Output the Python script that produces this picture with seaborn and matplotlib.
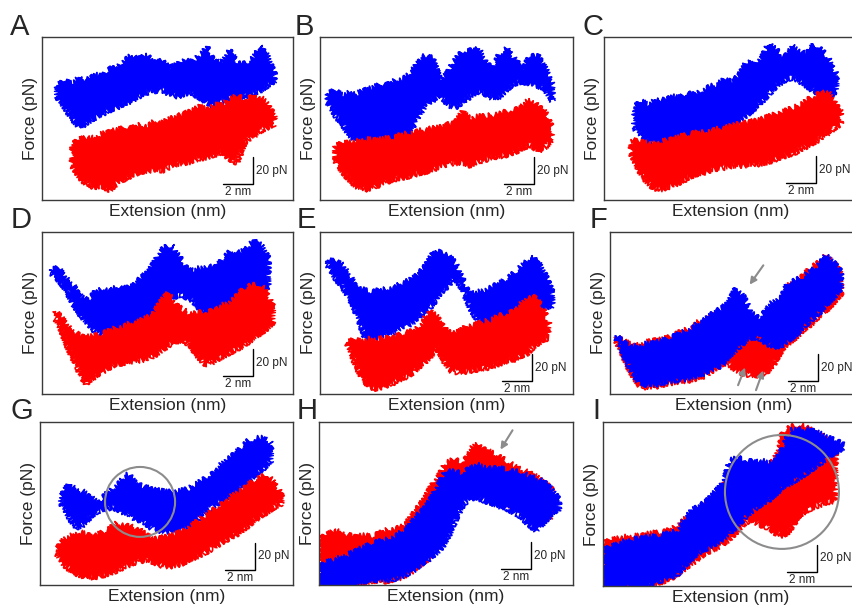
import numpy as np
import pandas as pd
import matplotlib
matplotlib.use('Agg')
import matplotlib.pyplot as plt
from matplotlib.patches import Ellipse
import seaborn as sns

sns.set_theme(style='white')
plt.rcParams['font.family'] = ['Liberation Sans', 'DejaVu Sans']

STEP = 0.5  # nm between envelope samples

# envelopes (pN) of each force-extension trace, sampled every 0.5 nm from x0 (nm)
a_blue_x0 = 1.0
a_blue_hi = [84, 87, 86, 90, 88, 92, 91, 96, 97, 103, 106, 104, 106, 101, 102, 97, 99, 103, 101, 106,
             112, 104, 101, 111, 100, 100, 104, 113, 106, 92]
a_blue_lo = [76, 68, 60, 53, 56, 60, 63, 66, 68, 71, 73, 76, 79, 80, 81, 78, 76, 78, 79, 75,
             72, 68, 72, 75, 74, 76, 78, 80, 84, 88]
a_red_x0 = 2.0
a_red_hi = [40, 44, 46, 45, 48, 50, 51, 53, 52, 55, 54, 57, 56, 59, 61, 63, 65, 68, 66, 70,
            69, 74, 76, 74, 77, 75, 72, 62]
a_red_lo = [25, 16, 11, 9, 10, 6, 12, 15, 18, 20, 21, 22, 21, 24, 26, 27, 28, 30, 31, 33,
            35, 30, 27, 42, 46, 50, 53, 56]

b_blue_x0 = 0.5
b_blue_hi = [78, 80, 77, 79, 78, 81, 82, 85, 84, 88, 89, 92, 100, 106, 104, 88, 93, 103, 109, 111,
             112, 103, 96, 108, 112, 103, 96, 105, 106, 97, 84]
b_blue_lo = [72, 62, 56, 46, 44, 45, 42, 44, 41, 43, 46, 50, 60, 70, 73, 78, 70, 68, 72, 76,
             80, 78, 75, 76, 82, 86, 87, 86, 84, 82, 72]
b_red_x0 = 1.0
b_red_hi = [39, 41, 42, 43, 44, 44, 44, 45, 45, 48, 49, 50, 51, 52, 53, 55, 56, 64, 59, 61,
            61, 62, 63, 65, 67, 70, 73, 70, 64, 52]
b_red_lo = [29, 20, 14, 9, 7, 8, 11, 13, 15, 16, 17, 19, 20, 22, 24, 26, 27, 27, 25, 28,
            29, 31, 32, 33, 35, 38, 40, 36, 38, 45]

c_blue_x0 = 2.0
c_blue_hi = [68, 72, 70, 74, 73, 76, 75, 78, 77, 80, 83, 84, 88, 87, 91, 101, 99, 104, 115, 110,
             106, 113, 110, 108, 114, 110, 104, 92]
c_blue_lo = [53, 47, 42, 40, 39, 43, 45, 45, 47, 48, 50, 49, 52, 56, 58, 62, 67, 72, 78, 84,
             88, 90, 88, 84, 80, 77, 76, 80]
c_red_x0 = 1.8
c_red_hi = [44, 42, 42, 41, 42, 44, 45, 47, 48, 49, 50, 51, 52, 53, 55, 56, 57, 58, 60, 62,
            64, 66, 68, 71, 75, 79, 80, 74, 64]
c_red_lo = [34, 22, 14, 8, 7, 9, 11, 14, 17, 19, 20, 22, 23, 24, 25, 25, 26, 26, 27, 29,
            31, 33, 35, 38, 41, 44, 48, 52, 56]

d_blue_x0 = 0.6
d_blue_hi = [92, 93, 86, 80, 72, 69, 76, 78, 77, 79, 78, 80, 86, 90, 99, 108, 110, 102, 95, 92,
             93, 95, 94, 100, 106, 105, 108, 113, 110, 100]
d_blue_lo = [90, 84, 78, 66, 58, 52, 46, 44, 40, 42, 44, 46, 50, 54, 60, 63, 70, 74, 72, 69,
             62, 59, 57, 56, 60, 64, 70, 73, 76, 80]
d_red_x0 = 0.9
d_red_hi = [61, 55, 48, 44, 42, 43, 44, 46, 49, 50, 52, 53, 56, 58, 68, 74, 66, 62, 59, 60,
            61, 63, 65, 67, 72, 77, 80, 81, 78, 64]
d_red_lo = [56, 44, 30, 18, 8, 12, 16, 19, 22, 23, 24, 25, 26, 28, 32, 36, 39, 40, 36, 28,
            22, 24, 27, 30, 33, 36, 40, 44, 48, 53]

e_blue_x0 = 0.5
e_blue_hi = [99, 98, 96, 87, 78, 77, 75, 77, 78, 79, 82, 84, 88, 94, 103, 105, 103, 97, 85, 76,
             75, 77, 80, 82, 85, 90, 96, 101, 98, 88, 75]
e_blue_lo = [96, 86, 80, 70, 58, 42, 40, 43, 45, 46, 50, 52, 56, 62, 66, 75, 80, 86, 78, 64,
             55, 52, 53, 55, 57, 58, 61, 62, 64, 64, 66]
e_red_x0 = 1.8
e_red_hi = [38, 40, 39, 41, 40, 42, 41, 44, 45, 47, 52, 61, 57, 48, 44, 46, 50, 51, 53, 54,
            57, 59, 62, 65, 71, 72, 64, 52]
e_red_lo = [38, 24, 12, 5, 4, 6, 8, 11, 13, 17, 22, 27, 34, 24, 17, 16, 17, 18, 19, 20,
            22, 24, 25, 28, 30, 36, 40, 42]

f_blue_x0 = 0.4
f_blue_hi = [43, 38, 36, 35, 37, 38, 39, 41, 43, 46, 48, 52, 55, 60, 63, 67, 78, 72, 60, 56,
             64, 68, 72, 82, 84, 87, 92, 95, 102, 97, 90]
f_blue_lo = [42, 30, 18, 9, 7, 7, 8, 10, 10, 11, 12, 14, 16, 19, 21, 28, 33, 38, 42, 42,
             38, 35, 36, 40, 44, 50, 55, 60, 66, 72, 78]
f_red_x0 = 0.4
f_red_hi = [42, 39, 37, 36, 38, 40, 40, 42, 44, 47, 49, 53, 55, 58, 60, 57, 54, 52, 50, 50,
            52, 60, 70, 80, 84, 88, 93, 97, 103, 98, 88]
f_red_lo = [40, 28, 16, 7, 5, 5, 7, 8, 9, 10, 10, 12, 14, 18, 22, 22, 18, 15, 14, 14,
            16, 22, 32, 38, 42, 48, 52, 58, 62, 68, 74]

g_blue_x0 = 1.4
g_blue_hi = [64, 74, 70, 68, 64, 60, 66, 71, 76, 81, 74, 72, 70, 69, 68, 68, 69, 70, 74, 77,
             82, 86, 92, 96, 100, 106, 108, 109, 104]
g_blue_lo = [60, 50, 42, 44, 50, 54, 56, 57, 54, 52, 48, 46, 42, 40, 38, 40, 40, 42, 47, 52,
             56, 60, 64, 66, 72, 76, 82, 86, 92]
g_red_x0 = 1.1
g_red_hi = [25, 33, 36, 38, 37, 35, 38, 40, 45, 44, 42, 40, 36, 33, 34, 35, 37, 39, 43, 47,
            51, 55, 60, 63, 68, 71, 75, 78, 81, 76, 66]
g_red_lo = [23, 14, 10, 7, 5, 5, 6, 8, 10, 13, 15, 17, 18, 16, 14, 13, 14, 16, 19, 21,
            24, 27, 31, 34, 37, 41, 45, 50, 53, 57, 60]

h_blue_x0 = 0.0
h_blue_hi = [12, 16, 18, 20, 22, 25, 27, 30, 31, 33, 35, 38, 42, 50, 55, 63, 74, 84, 83, 82,
             87, 88, 87, 86, 86, 84, 83, 83, 80, 79, 75, 70, 62]
h_blue_lo = [-4, -4, -4, -3, -2, 1, 2, 3, 3, 3, 4, 6, 8, 12, 16, 20, 25, 32, 45, 57,
             64, 64, 62, 60, 58, 56, 53, 50, 44, 40, 46, 52, 56]
h_red_x0 = 0.0
h_red_hi = [33, 36, 40, 38, 36, 35, 36, 35, 37, 40, 41, 42, 47, 55, 62, 72, 80, 90, 92, 90,
            98, 104, 100, 97, 94, 91, 88, 85, 82, 79, 75, 70]
h_red_lo = [5, 2, -2, -4, -2, 0, 1, 2, 3, 2, 4, 5, 8, 12, 16, 22, 30, 45, 58, 66,
            68, 69, 66, 63, 61, 60, 57, 55, 50, 47, 48, 50]

i_blue_x0 = 0.0
i_blue_hi = [25, 27, 30, 32, 33, 34, 35, 35, 36, 38, 40, 48, 55, 58, 62, 68, 74, 92, 93, 92,
             92, 91, 90, 92, 100, 114, 115, 115, 113, 111, 108, 106, 103]
i_blue_lo = [-4, -4, -3, -3, -2, -1, 0, 1, 3, 5, 8, 14, 20, 24, 27, 30, 34, 38, 44, 50,
             55, 59, 62, 67, 72, 75, 78, 82, 86, 90, 94, 98, 101]
i_red_x0 = 0.0
i_red_hi = [30, 32, 34, 35, 35, 36, 37, 38, 38, 40, 44, 48, 52, 56, 60, 64, 72, 80, 84, 87,
            88, 89, 90, 93, 112, 116, 118, 117, 114, 110, 106, 102]
i_red_lo = [-4, -4, -4, -3, -3, -2, -1, 0, 2, 4, 8, 12, 16, 20, 24, 26, 30, 34, 40, 46,
            47, 44, 42, 38, 36, 40, 50, 54, 57, 59, 61, 62]

panels = ['A', 'B', 'C', 'D', 'E', 'F', 'G', 'H', 'I']

# scale bar corner (nm, pN) per panel; bars are 2 nm x 20 pN
bar_x = [14.07, 14.27, 14.13, 14.07, 14.13, 13.87, 14.33, 14.13, 14.27]
bar_y = [11.1, 11.1, 11.85, 13.3, 9.6, 9.6, 10.4, 11.1, 9.0]
BAR_NM, BAR_PN = 2, 20

# gray arrows: (panel, tail x, tail y, head x, head y)
arrows = [('F', 10.33, 97.0, 9.2, 79.3),
          ('F', 8.47, 4.6, 9.07, 21.6),
          ('F', 9.67, 0.9, 10.27, 19.4),
          ('H', 13.0, 115.6, 12.0, 97.8)]
# gray circles: (panel, centre x, centre y, width nm, height pN)
circles = [('G', 6.67, 60.8, 4.67, 51.8),
           ('I', 11.93, 68.2, 7.6, 84.4)]

traces = {
    'A': (a_blue_x0, a_blue_hi, a_blue_lo, a_red_x0, a_red_hi, a_red_lo),
    'B': (b_blue_x0, b_blue_hi, b_blue_lo, b_red_x0, b_red_hi, b_red_lo),
    'C': (c_blue_x0, c_blue_hi, c_blue_lo, c_red_x0, c_red_hi, c_red_lo),
    'D': (d_blue_x0, d_blue_hi, d_blue_lo, d_red_x0, d_red_hi, d_red_lo),
    'E': (e_blue_x0, e_blue_hi, e_blue_lo, e_red_x0, e_red_hi, e_red_lo),
    'F': (f_blue_x0, f_blue_hi, f_blue_lo, f_red_x0, f_red_hi, f_red_lo),
    'G': (g_blue_x0, g_blue_hi, g_blue_lo, g_red_x0, g_red_hi, g_red_lo),
    'H': (h_blue_x0, h_blue_hi, h_blue_lo, h_red_x0, h_red_hi, h_red_lo),
    'I': (i_blue_x0, i_blue_hi, i_blue_lo, i_red_x0, i_red_hi, i_red_lo),
}

# frame in pixels: left, top, width, height; letter position
W, H = 852, 610
frames = {'A': (42, 37, 251, 163), 'B': (320, 37, 253, 163), 'C': (604, 37, 254, 163),
          'D': (42, 232, 251, 162), 'E': (320, 232, 253, 162), 'F': (610, 232, 248, 162),
          'G': (40, 422, 253, 163), 'H': (319, 422, 254, 163), 'I': (603, 422, 255, 164)}
letter_pos = {'A': (10, 35), 'B': (295, 35), 'C': (583, 35),
              'D': (11, 228), 'E': (297, 228), 'F': (590, 228),
              'G': (10, 419), 'H': (297, 419), 'I': (592, 419)}

BLUE, RED, GRAY = '#0000ff', '#ff0000', '#8c8c8c'
SKETCH = (3.0, 2.0, 6.0)  # jagged trace edges


def draw_trace(ax, x0, hi, lo, color, z):
    x = x0 + STEP * np.arange(len(hi))
    df = pd.DataFrame({'x': x, 'hi': hi, 'lo': lo})
    poly = ax.fill(np.r_[df.x, df.x[::-1]], np.r_[df.hi, df.lo[::-1]],
                   color=color, lw=0.8, zorder=z)[0]
    poly.set_sketch_params(*SKETCH)
    for col in ['hi', 'lo']:
        n0 = len(ax.lines)
        sns.lineplot(data=df, x='x', y=col, color=color, lw=1.2, ax=ax, estimator=None)
        for ln in ax.lines[n0:]:
            ln.set_zorder(z)
            ln.set_sketch_params(*SKETCH)


fig = plt.figure(figsize=(W / 100, H / 100), dpi=100)
axes = {}
for i, p in enumerate(panels):
    l, t, w, h = frames[p]
    ax = fig.add_axes([l / W, 1 - (t + h) / H, w / W, h / H])
    axes[p] = ax
    bx0, bhi, blo, rx0, rhi, rlo = traces[p]
    if p in 'FHI':
        draw_trace(ax, rx0, rhi, rlo, RED, 2)
        draw_trace(ax, bx0, bhi, blo, BLUE, 3)
    else:
        draw_trace(ax, bx0, bhi, blo, BLUE, 2)
        draw_trace(ax, rx0, rhi, rlo, RED, 3)

    ax.set_xlim(0, w / 15)
    ax.set_ylim(120 - h / 1.35, 120)
    ax.set_xticks([])
    ax.set_yticks([])
    ax.set_xlabel('Extension (nm)', fontsize=12.5, labelpad=3)
    ax.set_ylabel('Force (pN)', fontsize=12.5, labelpad=3)
    for s in ax.spines.values():
        s.set_color('#3a3a3a')
        s.set_linewidth(1.0)
        s.set_zorder(5)

    # scale bar
    cx, cy = bar_x[i], bar_y[i]
    ax.plot([cx - BAR_NM, cx, cx], [cy, cy, cy + BAR_PN], color='black', lw=1.0, zorder=6)
    ax.text(cx + 0.22, cy + BAR_PN / 2, '20 pN', fontsize=8.5, ha='left', va='center')
    ax.text(cx - BAR_NM / 2, cy - 1.5, '2 nm', fontsize=8.5, ha='center', va='top')

    lx, ly = letter_pos[p]
    fig.text(lx / W, 1 - ly / H, p, fontsize=21, ha='left', va='baseline')

for p, tx, ty, hx, hy in arrows:
    axes[p].annotate('', xy=(hx, hy), xytext=(tx, ty),
                     arrowprops=dict(arrowstyle='-|>', color=GRAY, lw=1.5, mutation_scale=10))

for p, cx, cy, ew, eh in circles:
    axes[p].add_patch(Ellipse((cx, cy), ew, eh, fill=False, edgecolor=GRAY, lw=1.5, zorder=7))

fig.savefig('out.png', dpi=100)
